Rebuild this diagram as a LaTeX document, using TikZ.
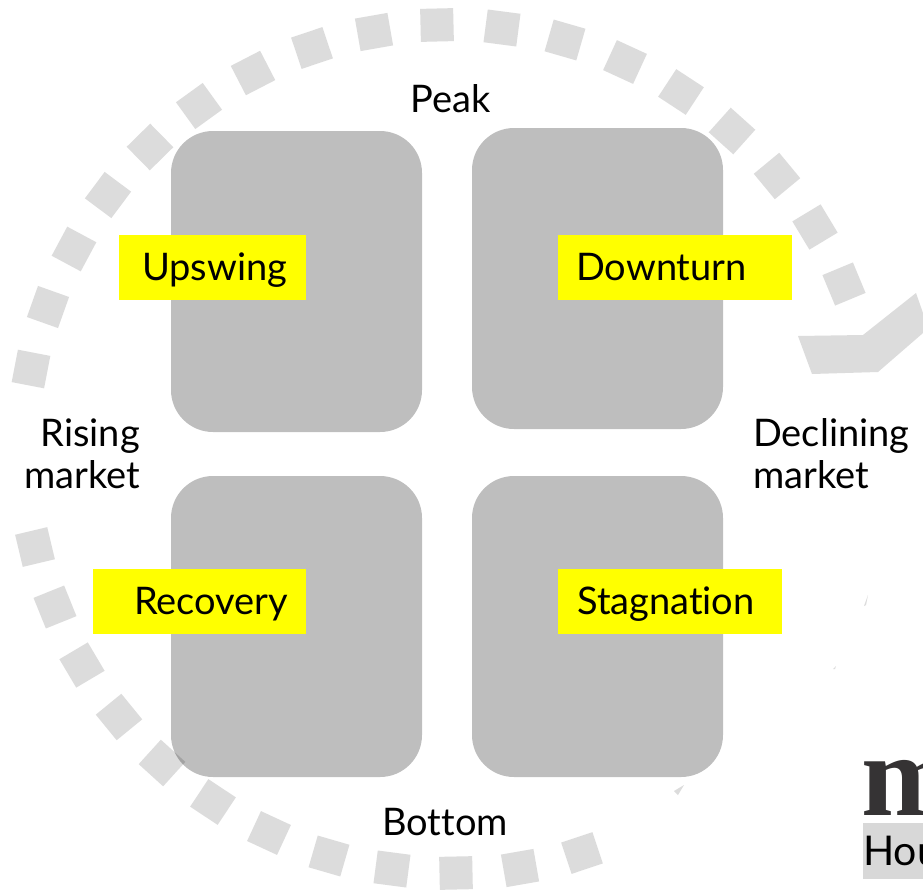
\documentclass[tikz,border=0pt]{standalone}
\usepackage{fontspec}
\setmainfont{Lato}[Ligatures=NoCommon]
\newfontfamily\logofont{Liberation Serif}
\definecolor{quad}{HTML}{000000}
\definecolor{seggray}{HTML}{DCDCDC}
\definecolor{mark}{HTML}{FFFF00}
\definecolor{logoink}{HTML}{353334}
\definecolor{logobar}{HTML}{D8D8D8}
\usetikzlibrary{positioning}
\tikzset{
  qbox/.style={fill=quad,fill opacity=0.255,rounded corners=42pt,minimum width=251pt,minimum height=301pt,inner sep=0pt,outer sep=0pt},
  seg/.style={fill=seggray,minimum size=33pt,inner sep=0pt,outer sep=0pt},
  chip/.style={fill=mark,anchor=north west,text height=45pt,text depth=20pt,inner sep=0pt,align=left,text width=#1,font=\fontsize{38pt}{42pt}\selectfont},
  lab/.style={font=\fontsize{38pt}{42pt}\selectfont,inner sep=0pt},
}
\begin{document}
\begin{tikzpicture}[x=1pt,y=-1pt]
\clip (0,0) rectangle (923,889);
\fill[white] (0,0) rectangle (923,889);
% dashed ring
\foreach \px/\py [count=\i] in {31/369,48/307,74/249,108/195,150/147,199/106,253/73,312/48,374/32,437/25,502/28,565/40,625/62,681/92,732/131,777/176,815/227,844/284,35/547,55/607,82/665,119/717,162/763,213/802,269/833,329/856,392/869,456/873,520/868,582/853}{
  \pgfmathsetmacro{\ang}{atan2(449-\py,\px-447)}
  \node[seg,rotate=\ang] (seg\i) at (\px,\py) {};
}
\fill[seggray] (798,336)--(863,335)--(916,293)--(923,313)--(923,333)--(878,372)--(812,374)--cycle;
\fill[seggray] (864,606)--(868,595)--(866,605)--cycle;
\fill[seggray] (833,669)--(836,666)--(835,669)--cycle;
\fill[seggray] (674,791)--(684,785)--(678,795)--cycle;
% quadrants
\node[qbox] (upq) at (296.5,281.5) {};
\node[qbox,right=50pt of upq,yshift=3pt] (downq) {};
\node[qbox,below=44pt of upq] (recq) {};
\node[qbox,right=50pt of recq] (stagq) {};
% labels
\node[chip=187pt] (upswing) at (119,235) {\hspace*{23pt}Upswing};
\node[chip=234pt] (downturn) at (558,235) {\hspace*{18pt}Downturn};
\node[chip=213pt] (recovery) at (93,569) {\hspace*{41pt}Recovery};
\node[chip=224pt] (stagnation) at (558,569) {\hspace*{19pt}Stagnation};
\node[lab] (peak) at (451,99) {Peak};
\node[lab] (bottom) at (445,822) {Bottom};
\node[lab,anchor=east,align=right] (rising) at (140,454) {Rising\\market};
\node[lab,anchor=west,align=left] (declining) at (753,454) {Declining\\market};
% logo, cut by the page edge
\node[anchor=base west,inner sep=0pt,text=logoink,font=\logofont\bfseries\fontsize{117pt}{117pt}\selectfont] (logom) at (861,815) {m};
\fill[logobar] (863,823) rectangle (923,879);
\node[anchor=base west,inner sep=0pt,font=\fontsize{41pt}{41pt}\selectfont] (logohou) at (863,865) {Hou};
\end{tikzpicture}
\end{document}
